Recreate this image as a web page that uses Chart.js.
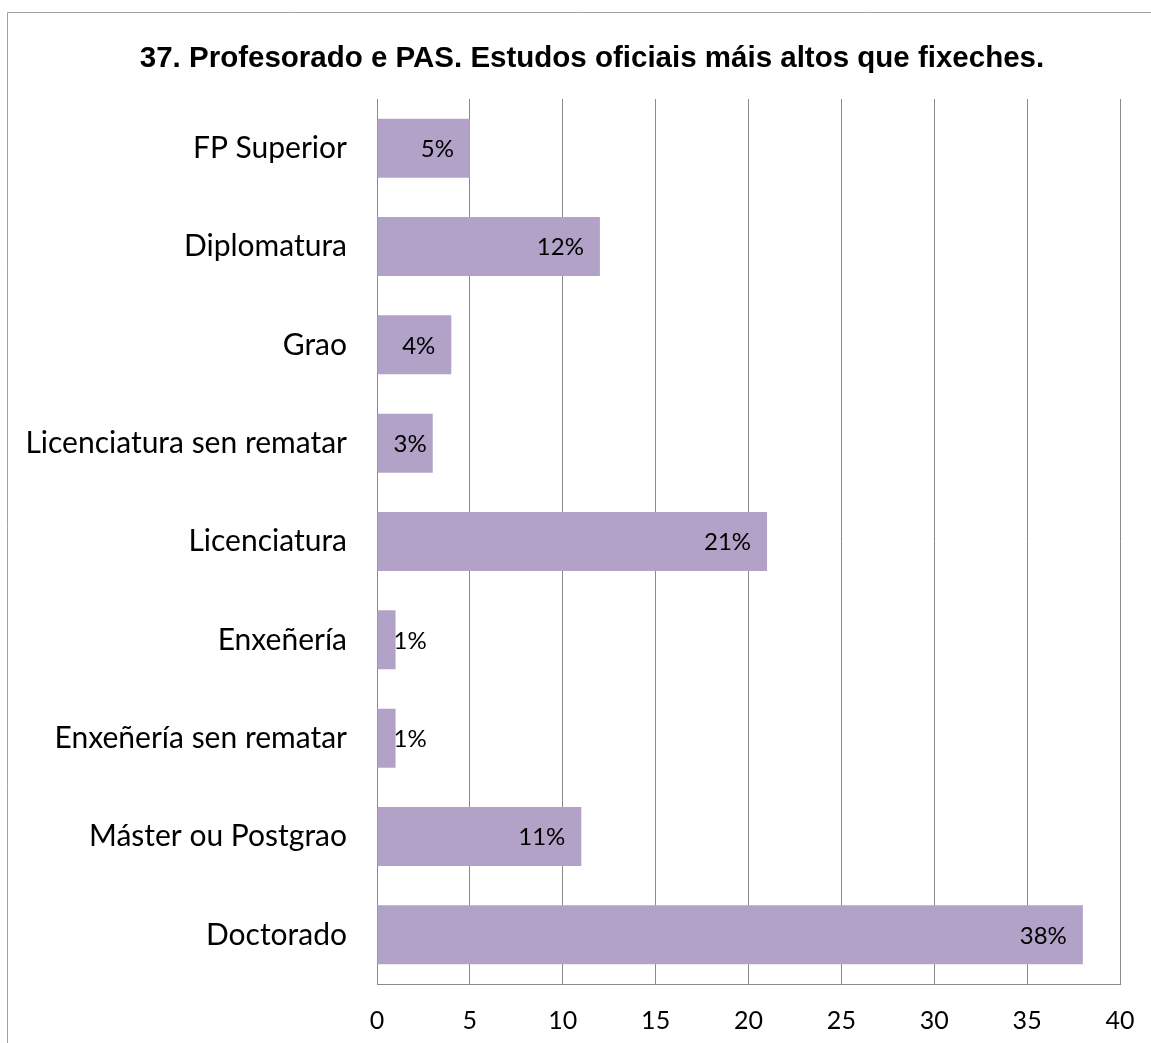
<!DOCTYPE html>
<html><head><meta charset="utf-8">
<script src="https://cdn.jsdelivr.net/npm/chart.js@4/dist/chart.umd.min.js"></script>
<style>html,body{margin:0;padding:0;background:#fff;overflow:hidden}</style>
</head><body>
<canvas id="c" width="1151" height="1043" style="display:block;width:1151px;height:1043px"></canvas>
<script>
const chartTitle = "37. Profesorado e PAS. Estudos oficiais máis altos que fixeches.";
const categories = ["FP Superior","Diplomatura","Grao","Licenciatura sen rematar","Licenciatura","Enxeñería","Enxeñería sen rematar","Máster ou Postgrao","Doctorado"];
const percentages = [5,12,4,3,21,1,1,11,38];
const dataLabels = ["5%","12%","4%","3%","21%","1%","1%","11%","38%"];
const xTickValues = [0,5,10,15,20,25,30,35,40];

const GRID = '#8a8a8a';

const framePlugin = {
  id: 'frame',
  beforeDraw(chart) {
    const ctx = chart.ctx;
    ctx.save();
    ctx.fillStyle = '#fff';
    ctx.fillRect(0, 0, chart.width, chart.height);
    ctx.strokeStyle = '#a0a0a0';
    ctx.lineWidth = 1;
    ctx.beginPath();
    ctx.moveTo(7.5, chart.height);
    ctx.lineTo(7.5, 12.5);
    ctx.lineTo(chart.width, 12.5);
    ctx.stroke();
    ctx.restore();
  },
  afterDraw(chart) {
    const ctx = chart.ctx;
    ctx.save();
    ctx.font = 'bold 29.5px "Liberation Sans", Arial, sans-serif';
    ctx.fillStyle = '#000';
    ctx.textAlign = 'center';
    ctx.textBaseline = 'middle';
    ctx.fillText(chartTitle, 592, 59);
    ctx.restore();
  }
};

const labelPlugin = {
  id: 'barLabels',
  afterDatasetsDraw(chart) {
    const ctx = chart.ctx;
    const meta = chart.getDatasetMeta(0);
    ctx.save();
    ctx.font = '24px Lato, "Noto Sans", sans-serif';
    ctx.fillStyle = '#000';
    ctx.textAlign = 'right';
    ctx.textBaseline = 'middle';
    meta.data.forEach((el, i) => {
      const txt = dataLabels[i];
      const w = ctx.measureText(txt).width;
      const right = Math.max(el.x - 16, el.base + 16 + w);
      ctx.fillText(txt, right, el.y + 1);
    });
    ctx.restore();
  }
};

new Chart(document.getElementById('c'), {
  type: 'bar',
  data: {
    labels: categories,
    datasets: [{
      data: percentages,
      backgroundColor: '#B2A2C7',
      borderWidth: 0,
      categoryPercentage: 1,
      barPercentage: 0.6
    }]
  },
  options: {
    indexAxis: 'y',
    responsive: false,
    animation: false,
    layout: { padding: { top: 99, left: 0, right: 31, bottom: 0 } },
    plugins: { legend: { display: false }, tooltip: { enabled: false }, title: { display: false } },
    scales: {
      x: {
        min: 0, max: 40,
        afterBuildTicks(scale) { scale.ticks = xTickValues.map(v => ({ value: v })); },
        afterFit(scale) { scale.height = 59; scale.paddingRight = 0; scale.paddingLeft = 0; },
        grid: { color: GRID, lineWidth: 1, drawTicks: false },
        border: { color: GRID, width: 1 },
        ticks: { color: '#000', padding: 22, font: { family: 'Lato', size: 25 }, maxRotation: 0 }
      },
      y: {
        afterFit(scale) { scale.width = 377; scale.paddingTop = 0; scale.paddingBottom = 0; },
        grid: { display: false, drawTicks: false },
        border: { display: true, color: GRID, width: 1 },
        ticks: { color: '#000', padding: 30, font: { family: 'Lato', size: 30 } }
      }
    }
  },
  plugins: [framePlugin, labelPlugin]
});
</script>
</body></html>
